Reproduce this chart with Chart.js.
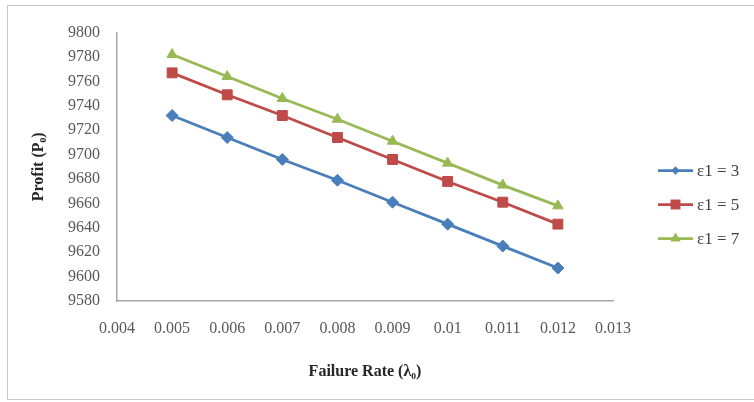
<!DOCTYPE html>
<html>
<head>
<meta charset="utf-8">
<script src="https://cdn.jsdelivr.net/npm/chart.js@4.4.1/dist/chart.umd.min.js"></script>
<style>
  html, body { margin: 0; padding: 0; background: #fff; overflow: hidden; }
  #box {
    position: absolute; left: 7px; top: 5px;
    width: 752px; height: 393px;
    border: 1px solid #c8c8c8;
  }
  canvas { display: block; }
</style>
</head>
<body>
<div id="box"><canvas id="chart" width="752" height="393"></canvas></div>
<script>
// failure rate (x) and profit for each ε1
const failureRate = [0.005, 0.006, 0.007, 0.008, 0.009, 0.010, 0.011, 0.012];
const profitE3 = [9732, 9714, 9696, 9679, 9661, 9643, 9625, 9607];
const profitE5 = [9767, 9749, 9732, 9714, 9696, 9678, 9661, 9643];
const profitE7 = [9782, 9764, 9746, 9729, 9711, 9693, 9675, 9658];
const seriesLabels = ['ε1 = 3', 'ε1 = 5', 'ε1 = 7'];

const FONT = '"Liberation Serif", "Times New Roman", serif';
const colors = ['#4a7ebb', '#be4b48', '#98b954'];
const markers = ['rectRot', 'rect', 'triangle'];
const radii = [6, 7, 6];

function toPoints(ys) {
  return failureRate.map((x, i) => ({ x, y: ys[i] }));
}

function makeSet(i, ys) {
  return {
    label: seriesLabels[i],
    data: toPoints(ys),
    borderColor: colors[i],
    backgroundColor: colors[i],
    borderWidth: 2.75,
    pointStyle: markers[i],
    pointRadius: radii[i],
    pointBorderWidth: 1,
    pointBorderColor: colors[i],
    pointBackgroundColor: colors[i],
    showLine: true,
    tension: 0
  };
}

function drawMarker(ctx, style, x, y, r) {
  ctx.beginPath();
  if (style === 'rect') {
    const s = r * Math.SQRT1_2;
    ctx.rect(x - s, y - s, 2 * s, 2 * s);
  } else if (style === 'rectRot') {
    const s = r * Math.SQRT1_2;
    ctx.moveTo(x - s, y); ctx.lineTo(x, y - s); ctx.lineTo(x + s, y); ctx.lineTo(x, y + s);
    ctx.closePath();
  } else {
    const a = Math.PI * 2 / 3;
    ctx.moveTo(x, y - r);
    ctx.lineTo(x + Math.sin(a) * r, y - Math.cos(a) * r);
    ctx.lineTo(x + Math.sin(2 * a) * r, y - Math.cos(2 * a) * r);
    ctx.closePath();
  }
  ctx.fill();
}

// Excel style legend: short line with marker, then text
const sideLegend = {
  id: 'sideLegend',
  afterDraw(chart) {
    const { ctx, chartArea } = chart;
    const x0 = chartArea.right + 45;
    const midY = chart.height / 2 + 2;
    ctx.save();
    chart.data.datasets.forEach((ds, i) => {
      const y = midY + (i - 1) * 34;
      ctx.strokeStyle = ds.borderColor;
      ctx.fillStyle = ds.borderColor;
      ctx.lineWidth = 2.75;
      ctx.beginPath();
      ctx.moveTo(x0, y);
      ctx.lineTo(x0 + 35, y);
      ctx.stroke();
      drawMarker(ctx, ds.pointStyle, x0 + 17.5, y, ds.pointRadius);
      ctx.fillStyle = '#404040';
      ctx.font = '17px ' + FONT;
      ctx.textAlign = 'left';
      ctx.textBaseline = 'middle';
      ctx.fillText(ds.label, x0 + 39, y + 1);
    });
    ctx.restore();
  }
};

new Chart(document.getElementById('chart'), {
  type: 'scatter',
  data: {
    datasets: [makeSet(0, profitE3), makeSet(1, profitE5), makeSet(2, profitE7)]
  },
  options: {
    responsive: false,
    animation: false,
    layout: { padding: { top: 19, right: 147, left: 0, bottom: 0 } },
    plugins: { legend: { display: false }, tooltip: { enabled: false } },
    scales: {
      x: {
        type: 'linear',
        min: 0.004,
        max: 0.013,
        afterFit: s => { s.height = 98; },
        ticks: {
          stepSize: 0.001,
          padding: 18,
          color: '#595959',
          font: { family: FONT, size: 16 },
          callback: v => String(+v.toFixed(3))
        },
        grid: { display: false, drawTicks: false },
        border: { display: true, color: '#a6a6a6', width: 1.5 },
        title: {
          display: true,
          text: 'Failure Rate (λ₀)',
          color: '#262626',
          font: { family: FONT, size: 16, weight: 'bold' },
          padding: { top: 0, bottom: 18 }
        }
      },
      y: {
        min: 9580,
        max: 9800,
        afterFit: s => { s.width = 109; },
        ticks: {
          stepSize: 20,
          padding: 17,
          color: '#595959',
          font: { family: FONT, size: 16 },
          callback: v => String(v)
        },
        grid: { display: false, drawTicks: false },
        border: { display: true, color: '#a6a6a6', width: 1.5 },
        title: {
          display: true,
          text: 'Profit (P₀)',
          color: '#262626',
          font: { family: FONT, size: 16, weight: 'bold' },
          padding: { top: 21, bottom: 0 }
        }
      }
    }
  },
  plugins: [sideLegend]
});
</script>
</body>
</html>
